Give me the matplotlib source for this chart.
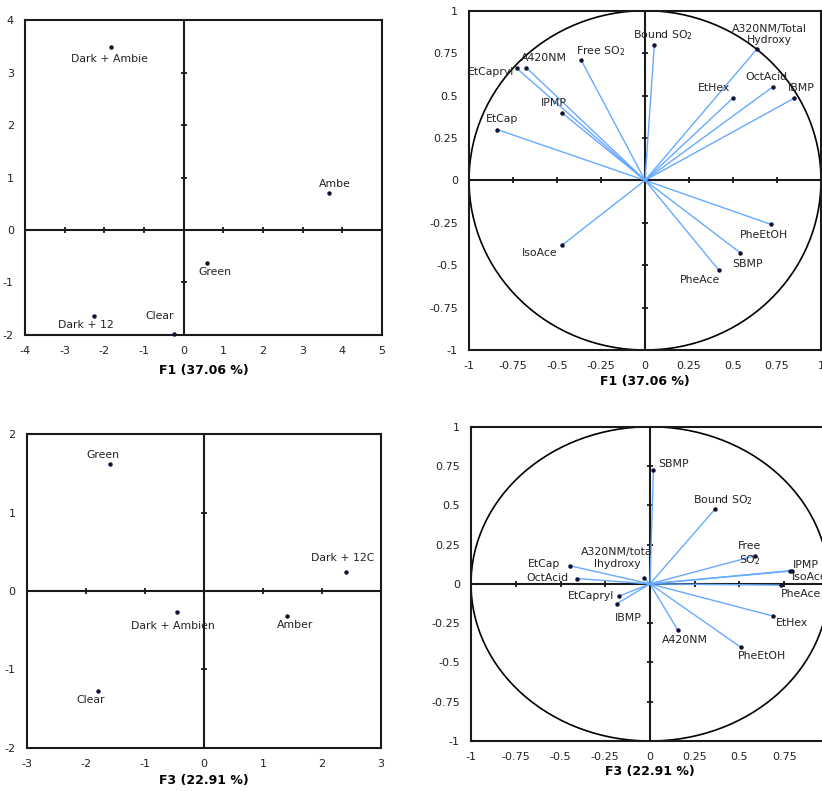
import matplotlib as mpl

mpl.use('agg')
mpl.rcParams['font.family'] = ['DejaVu Sans']
mpl.rcParams['font.size'] = 8
mpl.rcParams['axes.unicode_minus'] = False

import matplotlib.pyplot as plt
from matplotlib.patches import Circle
from matplotlib.ticker import FuncFormatter


# observations, F1 plot
obs1_labels = ['Dark + Ambie', 'Ambe', 'Green', 'Dark + 12', 'Clear']
obs1_x = [-1.82, 3.66, 0.59, -2.27, -0.25]
obs1_y = [3.49, 0.70, -0.62, -1.63, -1.98]

# variables, F1 plot
var1_labels = ['Bound SO$_2$', 'A320NM/Total\nHydroxy', 'Free SO$_2$', 'A420NM',
               'EtCapryl', 'IPMP', 'EtCap', 'EtHex', 'OctAcid', 'IBMP',
               'PheEtOH', 'SBMP', 'PheAce', 'IsoAce']
var1_x = [0.053, 0.634, -0.362, -0.674, -0.729, -0.473, -0.839, 0.502, 0.725, 0.845,
          0.714, 0.540, 0.420, -0.470]
var1_y = [0.800, 0.772, 0.707, 0.664, 0.660, 0.399, 0.299, 0.487, 0.550, 0.483,
          -0.259, -0.426, -0.530, -0.381]

# observations, F3 plot
obs3_labels = ['Green', 'Dark + 12C', 'Dark + Ambien', 'Amber', 'Clear']
obs3_x = [-1.59, 2.41, -0.46, 1.41, -1.80]
obs3_y = [1.62, 0.247, -0.264, -0.323, -1.277]

# variables, F3 plot
var3_labels = ['SBMP', 'Bound SO$_2$', 'Free\nSO$_2$', 'IPMP', 'IsoAce', 'PheAce',
               'EtHex', 'PheEtOH', 'A420NM', 'IBMP', 'EtCapryl',
               'A320NM/tota\nlhydroxy', 'EtCap', 'OctAcid']
var3_x = [0.019, 0.365, 0.585, 0.791, 0.782, 0.732, 0.685, 0.507, 0.155, -0.186,
          -0.175, -0.034, -0.447, -0.410]
var3_y = [0.724, 0.478, 0.178, 0.085, 0.081, -0.008, -0.204, -0.403, -0.293, -0.127,
          -0.079, 0.036, 0.115, 0.034]

# label offsets in pixels (dx, dy, ha)
obs1_off = [(-2, -12, 'center'), (6, 9, 'center'), (8, -9, 'center'),
            (-8, -9, 'center'), (-14, 18, 'center')]
var1_off = [(9, 10, 'center'), (13, 15, 'center'), (19, 9, 'center'), (18, 10, 'center'),
            (-26, -4, 'center'), (-8, 10, 'center'), (5, 11, 'center'), (-19, 10, 'center'),
            (-6, 10, 'center'), (8, 10, 'center'), (-7, -11, 'center'), (8, -11, 'center'),
            (-19, -10, 'center'), (-23, -8, 'center')]
obs3_off = [(-7, 9, 'center'), (-3, 14, 'center'), (-4, -14, 'center'),
            (8, -9, 'center'), (-7, -9, 'center')]
var3_off = [(20, 6, 'center'), (8, 9, 'center'), (-5, 2, 'center'), (1, 6, 'left'),
            (2, -6, 'left'), (20, -9, 'center'), (19, -7, 'center'), (21, -9, 'center'),
            (7, -10, 'center'), (12, -14, 'center'), (-28, 0, 'center'), (-27, 20, 'center'),
            (-26, 2, 'center'), (-29, 1, 'center')]

VEC_COLOR = '#66aaff'
LINE_COLOR = '#1a1a1a'


def fmt(v, pos):
    return '%g' % v


def setup_axes(ax, xlim, ylim, xticks, yticks, xlabel, labelpad):
    ax.set_xlim(xlim)
    ax.set_ylim(ylim)
    ax.set_xticks(xticks)
    ax.set_yticks(yticks)
    ax.xaxis.set_major_formatter(FuncFormatter(fmt))
    ax.yaxis.set_major_formatter(FuncFormatter(fmt))
    ax.tick_params(length=0, pad=8, colors='#222222', labelsize=8)
    for sp in ax.spines.values():
        sp.set_linewidth(1.5)
        sp.set_color(LINE_COLOR)
    # zero lines with cross ticks
    ax.axhline(0, color=LINE_COLOR, lw=1.5, zorder=1)
    ax.axvline(0, color=LINE_COLOR, lw=1.5, zorder=1)
    ax.plot(xticks, [0] * len(xticks), ls='none', marker='|', ms=5, mew=1.3,
            color=LINE_COLOR, zorder=1, clip_on=False)
    ax.plot([0] * len(yticks), yticks, ls='none', marker='_', ms=5, mew=1.3,
            color=LINE_COLOR, zorder=1, clip_on=False)
    ax.set_xlabel(xlabel, fontweight='bold', fontsize=9, labelpad=labelpad)


def plot_obs(ax, xs, ys, labels, offsets):
    ax.plot(xs, ys, ls='none', marker='o', ms=2.2, color='#111133', zorder=3,
            clip_on=False)
    for x, y, lab, (dx, dy, ha) in zip(xs, ys, labels, offsets):
        ax.annotate(lab, (x, y), xytext=(dx, dy), textcoords='offset pixels',
                    ha=ha, va='center', color='#222222', fontsize=7.8)


def plot_vars(ax, xs, ys, labels, offsets):
    ax.add_patch(Circle((0, 0), 1, fill=False, ec='black', lw=1.2, zorder=2))
    for x, y in zip(xs, ys):
        ax.plot([0, x], [0, y], color=VEC_COLOR, lw=1, zorder=2)
    plot_obs(ax, xs, ys, labels, offsets)


def main():
    fig = plt.figure(figsize=(8.22, 7.91), dpi=100)

    ax1 = fig.add_axes([0.0304, 0.5765, 0.4343, 0.3982])
    setup_axes(ax1, (-4, 5), (-2, 4), list(range(-4, 6)), list(range(-2, 5)),
               'F1 (37.06 %)', 6)
    plot_obs(ax1, obs1_x, obs1_y, obs1_labels, obs1_off)

    ticks = [-1, -0.75, -0.5, -0.25, 0, 0.25, 0.5, 0.75, 1]
    ax2 = fig.add_axes([0.5706, 0.5575, 0.4282, 0.4290])
    setup_axes(ax2, (-1, 1), (-1, 1), ticks, ticks, 'F1 (37.06 %)', 3)
    plot_vars(ax2, var1_x, var1_y, var1_labels, var1_off)

    ax3 = fig.add_axes([0.0325, 0.0547, 0.4310, 0.3962])
    setup_axes(ax3, (-3, 3), (-2, 2), list(range(-3, 4)), list(range(-2, 3)),
               'F3 (22.91 %)', 4)
    plot_obs(ax3, obs3_x, obs3_y, obs3_labels, obs3_off)

    ax4 = fig.add_axes([0.5730, 0.0632, 0.4355, 0.3973])
    setup_axes(ax4, (-1, 1), (-1, 1), ticks, ticks, 'F3 (22.91 %)', 2)
    plot_vars(ax4, var3_x, var3_y, var3_labels, var3_off)

    fig.savefig('out.png', dpi=100)


if __name__ == '__main__':
    main()
